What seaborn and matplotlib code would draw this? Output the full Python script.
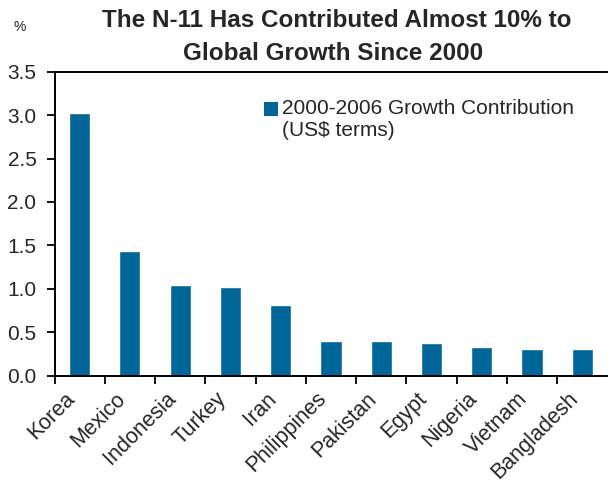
import matplotlib
matplotlib.use("Agg")
import matplotlib.pyplot as plt
import matplotlib.transforms as mtransforms
import seaborn as sns
import pandas as pd
import numpy as np
from matplotlib.patches import Patch

countries = ["Korea", "Mexico", "Indonesia", "Turkey", "Iran", "Philippines",
             "Pakistan", "Egypt", "Nigeria", "Vietnam", "Bangladesh"]
contribution = [3.03, 1.43, 1.04, 1.02, 0.81, 0.40, 0.40, 0.38, 0.33, 0.31, 0.31]
series_label = "2000-2006 Growth Contribution\n(US$ terms)"
yticks = [0.0, 0.5, 1.0, 1.5, 2.0, 2.5, 3.0, 3.5]

df = pd.DataFrame({"country": countries, "value": contribution})

sns.set_style("white")
plt.rcParams['font.family'] = ['Liberation Sans', 'DejaVu Sans']

color = "#006699"
fig = plt.figure(figsize=(6.08, 4.87), dpi=100)
ax = fig.add_axes([54.5/608, (487-375.7)/487, (608-54.5)/608 - 0.001, (375.7-71.7)/487])

sns.barplot(data=df, x="country", y="value", color=color, width=0.42,
            saturation=1, ax=ax)

ax.set_xlim(-0.5, len(countries) - 0.5)
ax.set_ylim(0, 3.5)
ax.set_yticks(yticks)
ax.set_yticklabels([f"{v:.1f}" for v in yticks], fontsize=15)
ax.set_xlabel("")
ax.set_ylabel("")

for s in ["left", "bottom", "top"]:
    ax.spines[s].set_visible(True)
    ax.spines[s].set_color("black")
    ax.spines[s].set_linewidth(1.4)
ax.spines["right"].set_visible(False)

ax.tick_params(axis="y", direction="out", length=6, width=1.3, color="black",
               left=True, pad=7)
# category boundaries as minor ticks
ax.set_xticks(np.arange(-0.5, len(countries) - 0.5, 1.0), minor=True)
ax.tick_params(axis="x", which="minor", direction="out", length=6, width=1.3,
               color="black", bottom=True)
ax.tick_params(axis="x", which="major", length=0, pad=9)
ax.set_xticklabels(countries, rotation=45, ha="right", rotation_mode="anchor",
                   fontsize=15.5)
offset = mtransforms.ScaledTranslation(-15/100, 0, fig.dpi_scale_trans)
for lab in ax.get_xticklabels():
    lab.set_transform(lab.get_transform() + offset)

fig.text(337/608, 1 - 27/487, "The N-11 Has Contributed Almost 10% to",
         ha="center", va="baseline", fontsize=17.5, fontweight="bold")
fig.text(333/608, 1 - 60/487, "Global Growth Since 2000",
         ha="center", va="baseline", fontsize=17.5, fontweight="bold")
fig.text(20/608, 1 - 27/487, "%", ha="center", va="center", fontsize=10)

handle = Patch(facecolor=color, edgecolor="none")
leg = ax.legend([handle], [series_label], loc="upper left",
                bbox_to_anchor=(264/608, 1 - 99/487), bbox_transform=fig.transFigure,
                frameon=False, fontsize=15,
                handlelength=0.67, handleheight=0.67, handletextpad=0.2,
                borderpad=0.0, borderaxespad=0.0)
# align the square with the first text line
h = leg.legend_handles[0]
h.set_y(h.get_y() + 7.5)

fig.savefig("out.png", dpi=100)
